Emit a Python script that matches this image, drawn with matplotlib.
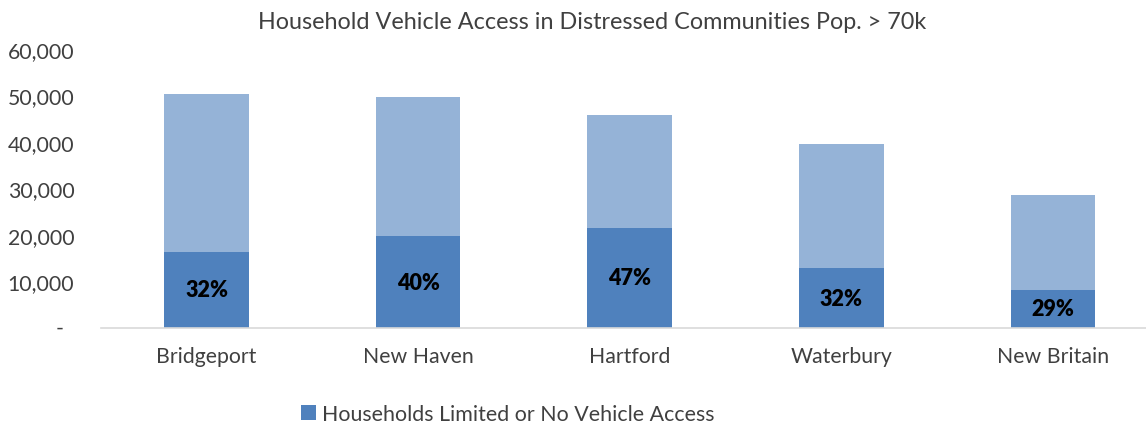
import matplotlib
matplotlib.use("Agg")
import matplotlib.pyplot as plt
from matplotlib.ticker import FuncFormatter
from matplotlib.transforms import ScaledTranslation

plt.rcParams['font.family'] = ['Lato', 'DejaVu Sans']

cities = ["Bridgeport", "New Haven", "Hartford", "Waterbury", "New Britain"]
limited_access = [16350, 19780, 21580, 12860, 8200]
total_households = [50290, 49780, 45790, 39640, 28500]
pct_labels = ["32%", "40%", "47%", "32%", "29%"]
y_ticks = [0, 10000, 20000, 30000, 40000, 50000, 60000]

other_households = [t - l for t, l in zip(total_households, limited_access)]

dark = "#4F81BD"
light = "#95B3D7"
text_col = "#404040"

fig = plt.figure(figsize=(11.46, 4.27), dpi=100)
ax = fig.add_axes([0.0879, 0.2295, 0.9121, 0.6534])

x = range(len(cities))
bars = ax.bar(x, limited_access, width=0.40, color=dark,
              label="Households Limited or No Vehicle Access")
ax.bar(x, other_households, bottom=limited_access, width=0.40, color=light)

for xi, val, lab in zip(x, limited_access, pct_labels):
    ax.text(xi, val / 2, lab, ha="center", va="center", fontsize=15.5,
            fontweight="heavy", color="#000000")

ax.set_xlim(-0.5, 4.44)
ax.set_ylim(0, 60000)
ax.set_yticks(y_ticks)
ax.yaxis.set_major_formatter(FuncFormatter(lambda v, p: "" if v == 0 else f"{int(v):,}"))
ax.set_xticks(list(x))
ax.set_xticklabels(cities)
ax.tick_params(axis="both", length=0, labelsize=15.3, colors=text_col)
ax.tick_params(axis="x", pad=13)
ax.tick_params(axis="y", pad=19)

# accounting-style zero dash sits left of the digit column
ax.text(0, 0, "-", ha="center", va="center", fontsize=15.3, color=text_col,
        transform=ax.get_yaxis_transform()
        + ScaledTranslation(-0.41, 0, fig.dpi_scale_trans))

for s in ["top", "right", "left"]:
    ax.spines[s].set_visible(False)
ax.spines["bottom"].set_color("#D9D9D9")
ax.spines["bottom"].set_linewidth(1.2)

fig.text(0.517, 0.947, "Household Vehicle Access in Distressed Communities Pop. > 70k",
         ha="center", va="center", fontsize=16.8, color=text_col)

fig.legend(handles=[bars], loc="center", bbox_to_anchor=(0.443, 0.028),
           frameon=False, fontsize=15.4, handlelength=0.7, handleheight=0.7,
           handletextpad=0.3, labelcolor=text_col)

fig.savefig("out.png", dpi=100)
